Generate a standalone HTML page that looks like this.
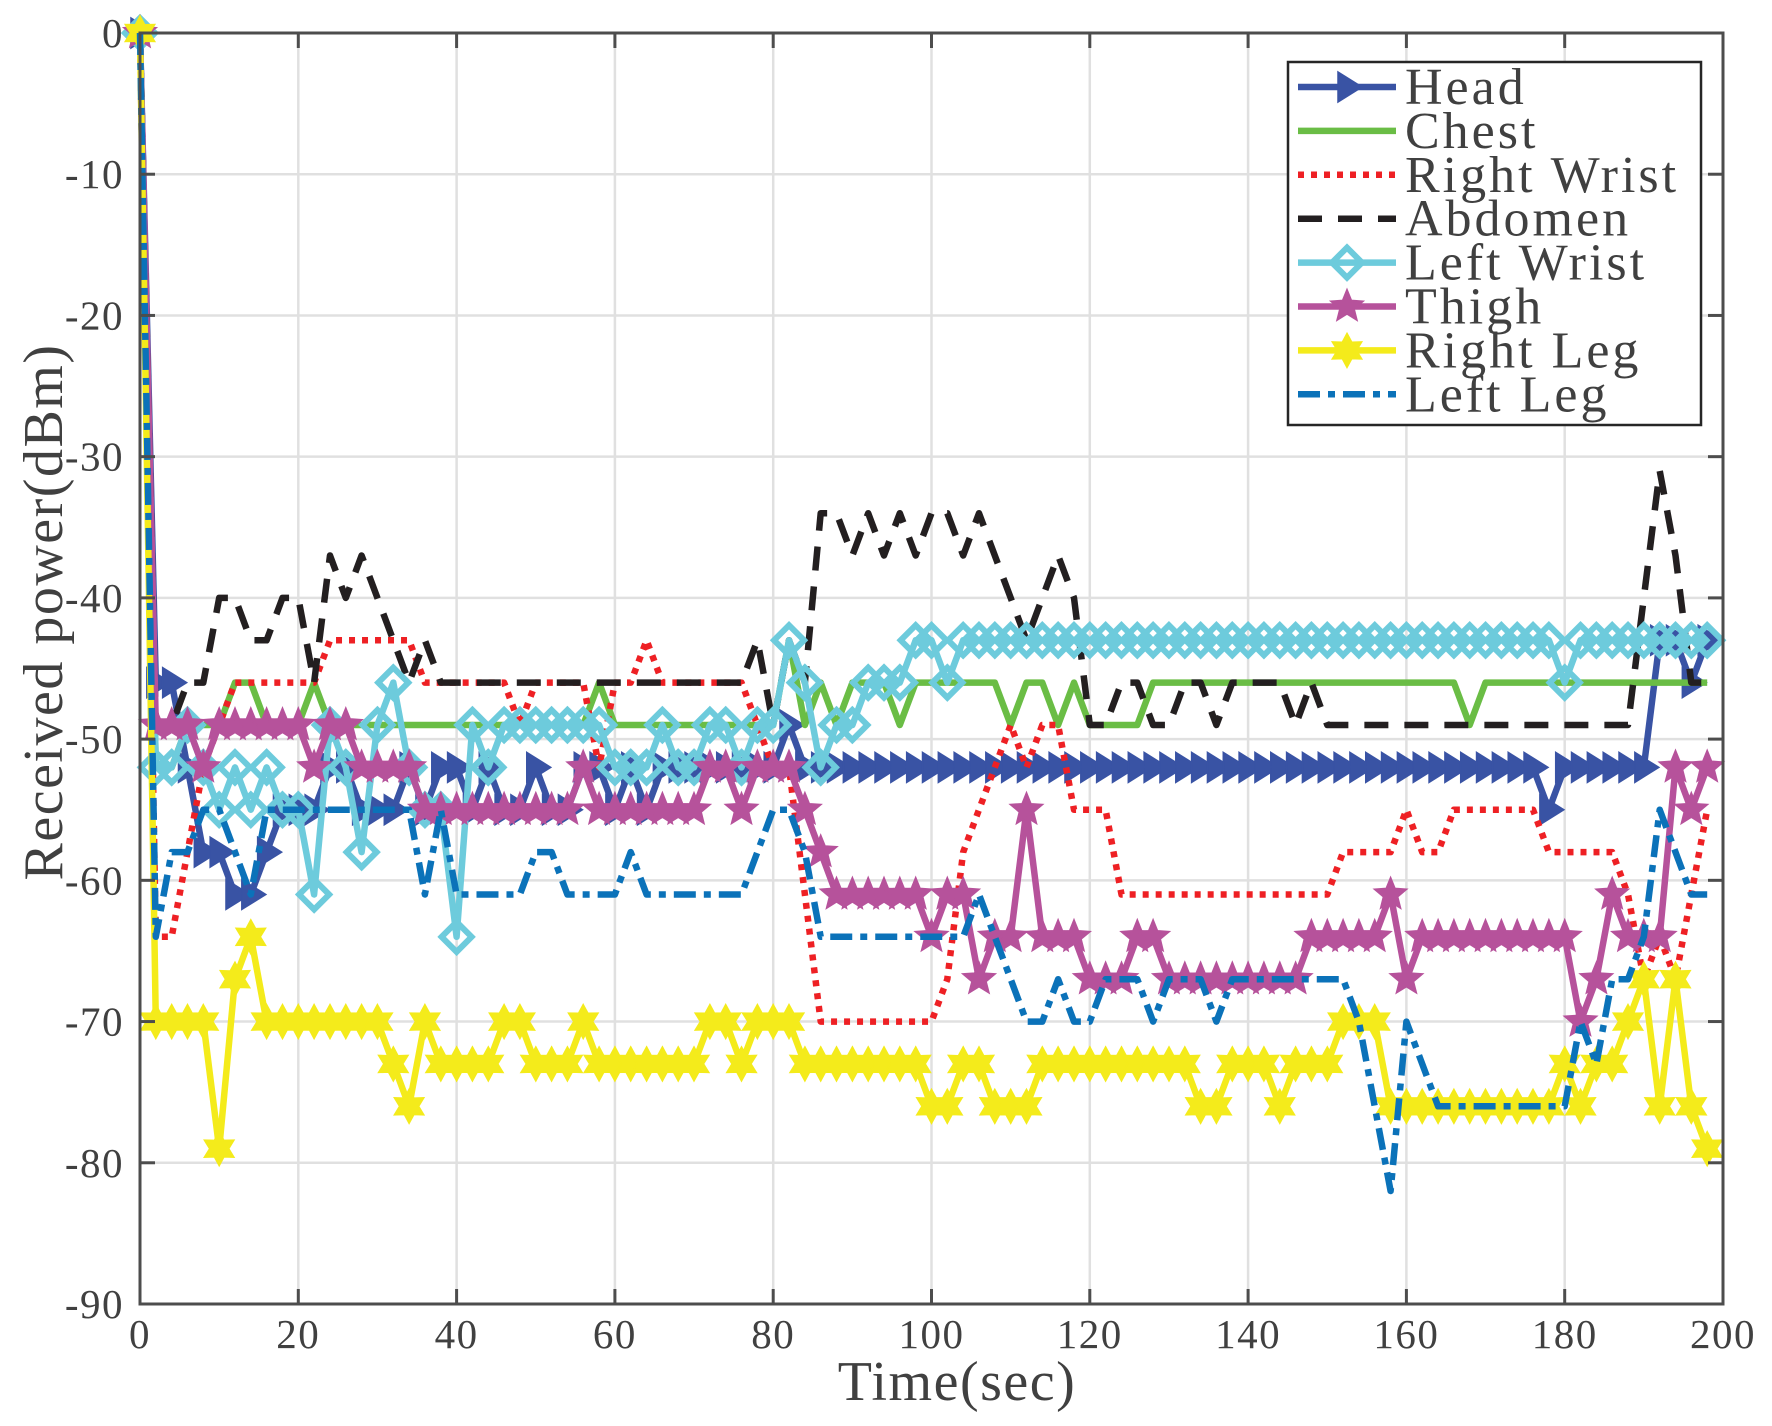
<!DOCTYPE html>
<html><head><meta charset="utf-8"><style>
html,body{margin:0;padding:0;background:#fff}
svg{display:block}
text{font-family:"Liberation Serif",serif;fill:#404040}
</style></head><body>
<svg id="chart" width="1772" height="1426" viewBox="0 0 1772 1426" xmlns="http://www.w3.org/2000/svg">
<rect width="1772" height="1426" fill="#fff"/>
<g id="grid"></g>
<g id="series"></g>
<g id="axes"></g>
<g id="legend"></g>
</svg>
<script>
const xTicks=[0,20,40,60,80,100,120,140,160,180,200];
const yTicks=[0,-10,-20,-30,-40,-50,-60,-70,-80,-90];
const timeStep=2;
const headVals=[0,-46,-46,-52,-58,-58,-61,-61,-58,-55,-55,-55,-52,-52,-55,-55,-55,-52,-55,-52,-52,-55,-52,-55,-55,-52,-55,-55,-52,-52,-55,-52,-55,-52,-52,-52,-52,-52,-52,-52,-52,-49,-52,-52,-52,-52,-52,-52,-52,-52,-52,-52,-52,-52,-52,-52,-52,-52,-52,-52,-52,-52,-52,-52,-52,-52,-52,-52,-52,-52,-52,-52,-52,-52,-52,-52,-52,-52,-52,-52,-52,-52,-52,-52,-52,-52,-52,-52,-52,-55,-52,-52,-52,-52,-52,-52,-43,-43,-46,-43];
const chestVals=[0,-52,-52,-49,-49,-49,-46,-46,-49,-49,-49,-46,-49,-49,-49,-49,-49,-49,-49,-49,-49,-49,-49,-49,-49,-49,-49,-49,-49,-46,-49,-49,-49,-49,-49,-49,-49,-49,-49,-49,-49,-43,-49,-46,-49,-46,-46,-46,-49,-46,-46,-46,-46,-46,-46,-49,-46,-46,-49,-46,-49,-49,-49,-49,-46,-46,-46,-46,-46,-46,-46,-46,-46,-46,-46,-46,-46,-46,-46,-46,-46,-46,-46,-46,-49,-46,-46,-46,-46,-46,-46,-46,-46,-46,-46,-46,-46,-46,-46,-46];
const rightWristVals=[0,-64,-64,-58,-52,-49,-46,-46,-46,-46,-46,-46,-43,-43,-43,-43,-43,-43,-46,-46,-46,-46,-46,-46,-49,-46,-46,-46,-46,-52,-46,-46,-43,-46,-46,-46,-46,-46,-46,-49,-52,-52,-61,-70,-70,-70,-70,-70,-70,-70,-70,-67,-58,-55,-52,-49,-52,-49,-49,-55,-55,-55,-61,-61,-61,-61,-61,-61,-61,-61,-61,-61,-61,-61,-61,-61,-58,-58,-58,-58,-55,-58,-58,-55,-55,-55,-55,-55,-55,-58,-58,-58,-58,-58,-61,-67,-64,-67,-61,-55];
const abdomenVals=[0,-49,-49,-46,-46,-40,-40,-43,-43,-40,-40,-46,-37,-40,-37,-40,-43,-46,-43,-46,-46,-46,-46,-46,-46,-46,-46,-46,-46,-46,-46,-46,-46,-46,-46,-46,-46,-46,-46,-43,-49,-43,-46,-34,-34,-37,-34,-37,-34,-37,-34,-34,-37,-34,-37,-40,-43,-40,-37,-40,-49,-49,-46,-46,-49,-49,-46,-46,-49,-46,-46,-46,-46,-49,-46,-49,-49,-49,-49,-49,-49,-49,-49,-49,-49,-49,-49,-49,-49,-49,-49,-49,-49,-49,-49,-40,-31,-37,-46,-46];
const leftWristVals=[0,-52,-52,-49,-52,-55,-52,-55,-52,-55,-55,-61,-49,-52,-58,-49,-46,-52,-55,-55,-64,-49,-52,-49,-49,-49,-49,-49,-49,-49,-52,-52,-52,-49,-52,-52,-49,-49,-52,-49,-49,-43,-46,-52,-49,-49,-46,-46,-46,-43,-43,-46,-43,-43,-43,-43,-43,-43,-43,-43,-43,-43,-43,-43,-43,-43,-43,-43,-43,-43,-43,-43,-43,-43,-43,-43,-43,-43,-43,-43,-43,-43,-43,-43,-43,-43,-43,-43,-43,-43,-46,-43,-43,-43,-43,-43,-43,-43,-43,-43];
const thighVals=[0,-49,-49,-49,-52,-49,-49,-49,-49,-49,-49,-52,-49,-49,-52,-52,-52,-52,-55,-55,-55,-55,-55,-55,-55,-55,-55,-55,-52,-55,-55,-55,-55,-55,-55,-55,-52,-52,-55,-52,-52,-52,-55,-58,-61,-61,-61,-61,-61,-61,-64,-61,-61,-67,-64,-64,-55,-64,-64,-64,-67,-67,-67,-64,-64,-67,-67,-67,-67,-67,-67,-67,-67,-67,-64,-64,-64,-64,-64,-61,-67,-64,-64,-64,-64,-64,-64,-64,-64,-64,-64,-70,-67,-61,-64,-64,-64,-52,-55,-52];
const rightLegVals=[0,-70,-70,-70,-70,-79,-67,-64,-70,-70,-70,-70,-70,-70,-70,-70,-73,-76,-70,-73,-73,-73,-73,-70,-70,-73,-73,-73,-70,-73,-73,-73,-73,-73,-73,-73,-70,-70,-73,-70,-70,-70,-73,-73,-73,-73,-73,-73,-73,-73,-76,-76,-73,-73,-76,-76,-76,-73,-73,-73,-73,-73,-73,-73,-73,-73,-73,-76,-76,-73,-73,-73,-76,-73,-73,-73,-70,-70,-70,-76,-76,-76,-76,-76,-76,-76,-76,-76,-76,-76,-73,-76,-73,-73,-70,-67,-76,-67,-76,-79];
const leftLegVals=[0,-64,-58,-58,-55,-55,-58,-61,-55,-55,-55,-55,-55,-55,-55,-55,-55,-55,-61,-55,-61,-61,-61,-61,-61,-58,-58,-61,-61,-61,-61,-58,-61,-61,-61,-61,-61,-61,-61,-58,-55,-55,-58,-64,-64,-64,-64,-64,-64,-64,-64,-64,-64,-61,-64,-67,-70,-70,-67,-70,-70,-67,-67,-67,-70,-67,-67,-67,-70,-67,-67,-67,-67,-67,-67,-67,-67,-70,-76,-82,-70,-73,-76,-76,-76,-76,-76,-76,-76,-76,-76,-70,-73,-67,-67,-64,-55,-58,-61,-61];
const seriesNames=["Head","Chest","Right Wrist","Abdomen","Left Wrist","Thigh","Right Leg","Left Leg"];

const L=140,R=1723,T=33,B=1304;
const xS=v=>L+(v-0)/200*(R-L);
const yS=v=>T+(0-v)/90*(B-T);
const NS="http://www.w3.org/2000/svg";
function mk(tag,parent,attrs){const e=document.createElementNS(NS,tag);for(const k in attrs)e.setAttribute(k,attrs[k]);parent.appendChild(e);return e;}

const grid=document.getElementById('grid'),axes=document.getElementById('axes'),sg=document.getElementById('series'),lg=document.getElementById('legend');
xTicks.forEach(t=>{const l=mk('line',grid,{x1:xS(t),x2:xS(t),y1:T,y2:B,stroke:'#e0e0e0','stroke-width':2.5});
});
yTicks.forEach(t=>{const l=mk('line',grid,{x1:L,x2:R,y1:yS(t),y2:yS(t),stroke:'#e0e0e0','stroke-width':2.5});
});

const styles=[
 {c:'#3953a4',dash:'',m:'tri'},
 {c:'#6abd45',dash:'',m:''},
 {c:'#ee2024',dash:'6 7',m:''},
 {c:'#231f20',dash:'24 16',m:''},
 {c:'#6dcbdc',dash:'',m:'dia'},
 {c:'#b6529b',dash:'',m:'star5'},
 {c:'#f4eb1b',dash:'',m:'star6'},
 {c:'#0b72b9',dash:'22 8 7 8',m:''}];
const allVals=[headVals,chestVals,rightWristVals,abdomenVals,leftWristVals,thighVals,rightLegVals,leftLegVals];
const slug=["head","chest","right-wrist","abdomen","left-wrist","thigh","right-leg","left-leg"];

function markerPath(type,x,y){
 if(type==='tri'){const r=15;return `M${x-r*0.6},${y-r} L${x+r},${y} L${x-r*0.6},${y+r}Z`;}
 if(type==='dia'){const r=15;return `M${x},${y-r} L${x+r},${y} L${x},${y+r} L${x-r},${y}Z`;}
 if(type==='star5'||type==='star6'){const n=type==='star5'?5:6,ro=17,ri=type==='star5'?7.5:9.5;let d='';
  for(let i=0;i<2*n;i++){const a=-Math.PI/2+i*Math.PI/n,r=i%2?ri:ro;d+=(i?'L':'M')+(x+r*Math.cos(a)).toFixed(1)+','+(y+r*Math.sin(a)).toFixed(1);}return d+'Z';}
 return '';
}

allVals.forEach((vals,si)=>{
 const st=styles[si];
 const g=mk('g',sg,{});
 
 
 const pts=vals.map((v,i)=>xS(i*timeStep).toFixed(1)+','+yS(v).toFixed(1)).join(' ');
 const pl=mk('polyline',g,{points:pts,fill:'none',stroke:st.c,'stroke-width':6.5,'stroke-linejoin':'round'});
 if(st.dash)pl.setAttribute('stroke-dasharray',st.dash);
 
 
 if(st.m){vals.forEach((v,i)=>{
  const p=mk('path',g,{d:markerPath(st.m,xS(i*timeStep),yS(v)),fill:st.m==='dia'?'none':st.c,stroke:st.c,'stroke-width':st.m==='dia'?6:1.5});
  
  
 });}
});

const box=mk('rect',axes,{x:L,y:T,width:R-L,height:B-T,fill:'none',stroke:'#4d4d4d','stroke-width':3});

xTicks.forEach(t=>{
 mk('line',axes,{x1:xS(t),x2:xS(t),y1:B,y2:B-15,stroke:'#4d4d4d','stroke-width':3});
 mk('line',axes,{x1:xS(t),x2:xS(t),y1:T,y2:T+15,stroke:'#4d4d4d','stroke-width':3});
 const tx=mk('text',axes,{x:xS(t),y:B+44,'text-anchor':'middle','font-size':41,'letter-spacing':1.5});
 tx.textContent=t;
 
});
yTicks.forEach(t=>{
 mk('line',axes,{x1:L,x2:L+15,y1:yS(t),y2:yS(t),stroke:'#4d4d4d','stroke-width':3});
 mk('line',axes,{x1:R,x2:R-15,y1:yS(t),y2:yS(t),stroke:'#4d4d4d','stroke-width':3});
 const tx=mk('text',axes,{x:L-16,y:yS(t)+14,'text-anchor':'end','font-size':41,'letter-spacing':1.5});
 tx.textContent=t;
 
});
const xt=mk('text',axes,{x:957,y:1400,'text-anchor':'middle','font-size':56,'letter-spacing':1.5});
xt.textContent='Time(sec)';
const yt=mk('text',axes,{x:0,y:0,'text-anchor':'middle','font-size':56,'letter-spacing':1.5,transform:'translate(62,612) rotate(-90)'});
yt.textContent='Received power(dBm)';

const lb=mk('rect',lg,{x:1288,y:62,width:413,height:363,fill:'#fff',stroke:'#262626','stroke-width':2.5});

seriesNames.forEach((n,i)=>{
 const st=styles[i],y=87+i*43.9;
 const g=mk('g',lg,{});
 
 
 const l=mk('line',g,{x1:1298,x2:1396,y1:y,y2:y,stroke:st.c,'stroke-width':6.5});
 if(st.dash)l.setAttribute('stroke-dasharray',st.dash);
 if(st.m)mk('path',g,{d:markerPath(st.m,1347,y),fill:st.m==='dia'?'none':st.c,stroke:st.c,'stroke-width':st.m==='dia'?6:1.5});
 const t=mk('text',g,{x:1405,y:y+17,'font-size':52,'letter-spacing':3});t.textContent=n;
});
</script>
</body></html>
